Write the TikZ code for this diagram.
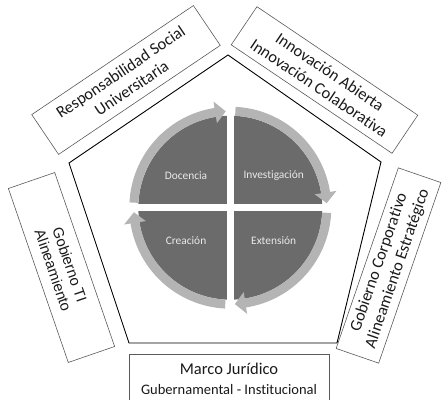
\documentclass[tikz,border=0pt]{standalone}
\usepackage{fontspec}
\setmainfont{Carlito}[Ligatures=NoCommon]
\newfontfamily\arialfont{Liberation Sans}
\usetikzlibrary{calc}
\definecolor{darkq}{HTML}{6B6B6B}
\definecolor{ringg}{HTML}{B4B4B4}
\definecolor{qtext}{HTML}{EAEAEA}
\definecolor{otext}{HTML}{1A1A1A}
\definecolor{boxline}{HTML}{5A5A5A}
\begin{document}
\begin{tikzpicture}[x=1pt,y=1pt,
  outerbox/.style={draw=boxline, line width=0.6pt, fill=white, align=center, inner sep=0pt, text=otext,
    font=\fontsize{16.5}{19.5}\selectfont},
  qlabel/.style={text=qtext, font=\fontsize{11.4}{13}\selectfont, inner sep=0pt},
  penta/.style={draw=black, line width=0.9pt},
  ringarrow/.style={fill=ringg},
  gapbar/.style={fill=white}]
\clip (0,0) rectangle (444,399);
% pentagon
\coordinate (pt) at (228,344);
\coordinate (pur) at (381,237);
\coordinate (plr) at (337,56);
\coordinate (pll) at (129,56);
\coordinate (pul) at (69,236);
\draw[penta] (pt) -- (pur) -- (plr) -- (pll) -- (pul) -- cycle;
% central cycle
\coordinate (ctr) at (230.3,191.3);
\fill[darkq] (ctr) circle[radius=92pt];
\fill[gapbar] ($(ctr)+(-3.6,-94)$) rectangle ($(ctr)+(3.6,94)$);
\fill[gapbar] ($(ctr)+(-94,-3.4)$) rectangle ($(ctr)+(94,3.4)$);
\foreach \A in {180,90,0,-90} {
  \pgfmathsetmacro\angS{\A-3}
  \pgfmathsetmacro\angB{\A-90+9}
  \pgfmathsetmacro\angT{\A-90+2.7}
  \fill[ringarrow] ($(ctr)+(\angS:101)$) arc[start angle=\angS, end angle=\angB, radius=101pt]
    -- ($(ctr)+(\angB:107.5)$) -- ($(ctr)+(\angT:96.5)$) -- ($(ctr)+(\angB:85.5)$)
    -- ($(ctr)+(\angB:92)$) arc[start angle=\angB, end angle=\angS, radius=92pt] -- cycle;
}
\node[qlabel] (doc) at ($(ctr)+(-44.3,32)$) {Docencia};
\node[qlabel] (inv) at ($(ctr)+(43.4,32)$) {Investigación};
\node[qlabel] (cre) at ($(ctr)+(-44.3,-33)$) {Creación};
\node[qlabel] (ext) at ($(ctr)+(43.4,-33)$) {Extensión};
% outer boxes
\node[outerbox, rotate=34, minimum width=195pt, minimum height=48pt] (rsu) at (126,319)
  {Responsabilidad Social\\Universitaria};
\node[outerbox, rotate=-34, minimum width=194pt, minimum height=46pt] (inn) at (324.5,319)
  {Innovación Abierta\\Innovación Colaborativa};
\node[outerbox, rotate=-71, minimum width=184pt, minimum height=49pt,
  font=\arialfont\fontsize{14.8}{17.5}\selectfont] (gti) at (61.5,131.5)
  {Gobierno TI\\Alineamiento};
\node[outerbox, rotate=71, minimum width=191pt, minimum height=45pt] (gco) at (388.5,133.5)
  {Gobierno Corporativo\\Alineamiento Estratégico};
\node[outerbox, anchor=north, minimum width=200pt, minimum height=65pt] (mjbox) at (229,45) {};
\node[text=otext, anchor=base, inner sep=0pt, font=\fontsize{16.5}{19}\selectfont] (mj) at (229,25) {Marco Jurídico};
\node[text=otext, anchor=base, inner sep=0pt, font=\fontsize{14.5}{17}\selectfont] (gi) at (229,4.5) {Gubernamental - Institucional};
\end{tikzpicture}
\end{document}
